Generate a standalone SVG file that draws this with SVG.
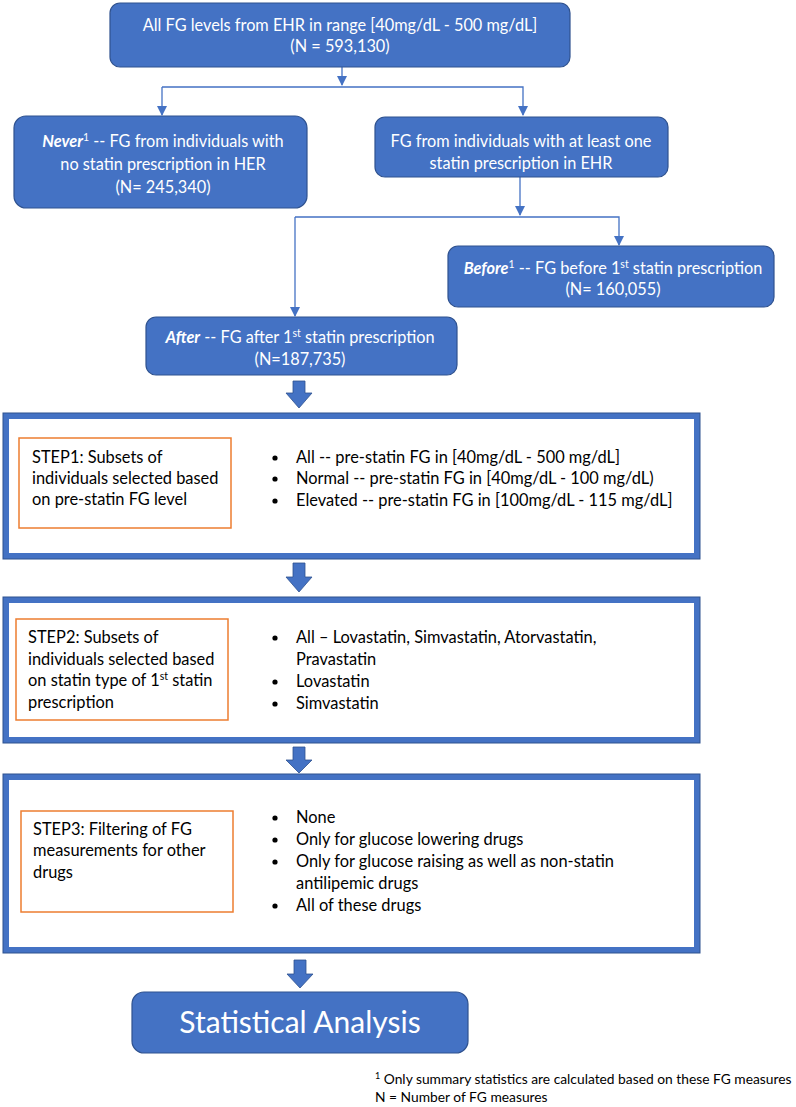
<svg xmlns="http://www.w3.org/2000/svg" width="796" height="1107" viewBox="0 0 796 1107">
<style>
.node{fill:#4472C4;stroke:#2F528F;stroke-width:1.2}
.t{font-family:Lato,"Liberation Sans",sans-serif;font-size:16.3px;fill:#fff;text-anchor:middle}
.b{font-family:Lato,"Liberation Sans",sans-serif;font-size:16.4px;fill:#000}
.frame{fill:#fff;stroke:#4472C4;stroke-width:6}
.frame2{fill:none;stroke:#2F528F;stroke-width:1}
.step{fill:#fff;stroke:#ED7D31;stroke-width:1.5}
.con{fill:none;stroke:#4472C4;stroke-width:1.3}
.blk{fill:#4472C4;stroke:#2F528F;stroke-width:0.8}
.sup{font-size:10.5px}
.fn{font-family:Lato,"Liberation Sans",sans-serif;font-size:13.8px;fill:#000}
</style>
<defs>
<marker id="ah" markerWidth="10" markerHeight="10" refX="9" refY="5" orient="auto" markerUnits="userSpaceOnUse">
<path d="M0,0 L10,5 L0,10 z" fill="#4472C4"/>
</marker>
</defs>

<g id="connectors">
<line class="con" x1="342" y1="67" x2="342" y2="85" marker-end="url(#ah)"/>
<polyline class="con" points="162,87 523,87 523,115" marker-end="url(#ah)"/>
<line class="con" x1="162" y1="87" x2="162" y2="115" marker-end="url(#ah)"/>
<line class="con" x1="520" y1="177" x2="520" y2="215" marker-end="url(#ah)"/>
<polyline class="con" points="295,217 619,217 619,245" marker-end="url(#ah)"/>
<line class="con" x1="295" y1="217" x2="295" y2="316" marker-end="url(#ah)"/>
<path class="blk" d="M293,381 H305 V393 H312 L299,408 L286,393 H293 Z"/>
<path class="blk" d="M293,563 H305 V577 H312 L299,592 L286,577 H293 Z"/>
<path class="blk" d="M293,747 H305 V760 H312 L299,773 L286,760 H293 Z"/>
<path class="blk" d="M294,960 H306 V974 H313 L300,988 L287,974 H294 Z"/>
</g>

<g id="all">
<rect class="node" x="110" y="3" width="460" height="64" rx="10"/>
<text class="t" x="340" y="31">All FG levels from EHR in range [40mg/dL - 500 mg/dL]</text>
<text class="t" x="340" y="52">(N = 593,130)</text>
</g>

<g id="never">
<rect class="node" x="14" y="116" width="293" height="92" rx="12"/>
<text class="t" x="163" y="147"><tspan font-weight="bold" font-style="italic">Never</tspan><tspan class="sup" dy="-6">1</tspan><tspan dy="6"> -- FG from individuals with</tspan></text>
<text class="t" x="163" y="170">no statin prescription in HER</text>
<text class="t" x="163" y="193">(N= 245,340)</text>
</g>

<g id="statin">
<rect class="node" x="375" y="117" width="293" height="60" rx="10"/>
<text class="t" x="521" y="147">FG from individuals with at least one</text>
<text class="t" x="521" y="169">statin prescription in EHR</text>
</g>

<g id="before">
<rect class="node" x="448" y="246" width="326" height="61" rx="10"/>
<text class="t" x="613" y="274"><tspan font-weight="bold" font-style="italic">Before</tspan><tspan class="sup" dy="-6">1</tspan><tspan dy="6"> -- FG before 1</tspan><tspan class="sup" dy="-6">st</tspan><tspan dy="6"> statin prescription</tspan></text>
<text class="t" x="613" y="295">(N= 160,055)</text>
</g>

<g id="after">
<rect class="node" x="146" y="317" width="311" height="58" rx="10"/>
<text class="t" x="300" y="343"><tspan font-weight="bold" font-style="italic">After</tspan><tspan> -- FG after 1</tspan><tspan class="sup" dy="-6">st</tspan><tspan dy="6"> statin prescription</tspan></text>
<text class="t" x="300" y="365">(N=187,735)</text>
</g>

<g id="step1">
<rect class="frame" x="6" y="416" width="691" height="140"/>
<rect class="frame2" x="3" y="413" width="697" height="146"/>
<rect class="step" x="19" y="438" width="212" height="90"/>
<text class="b" x="32" y="463">STEP1: Subsets of</text>
<text class="b" x="32" y="484">individuals selected based</text>
<text class="b" x="32" y="505">on pre-statin FG level</text>
<circle cx="275" cy="458" r="2.6"/>
<circle cx="275" cy="479" r="2.6"/>
<circle cx="275" cy="501" r="2.6"/>
<text class="b" x="296" y="463">All -- pre-statin FG in [40mg/dL - 500 mg/dL]</text>
<text class="b" x="296" y="484">Normal -- pre-statin FG in [40mg/dL - 100 mg/dL)</text>
<text class="b" x="296" y="506">Elevated -- pre-statin FG in [100mg/dL - 115 mg/dL]</text>
</g>

<g id="step2">
<rect class="frame" x="6" y="600" width="691" height="140"/>
<rect class="frame2" x="3" y="597" width="697" height="146"/>
<rect class="step" x="16" y="619" width="212" height="101"/>
<text class="b" x="28" y="643">STEP2: Subsets of</text>
<text class="b" x="28" y="665">individuals selected based</text>
<text class="b" x="28" y="686">on statin type of 1<tspan class="sup" dy="-6">st</tspan><tspan dy="6"> statin</tspan></text>
<text class="b" x="28" y="708">prescription</text>
<circle cx="275" cy="638" r="2.6"/>
<circle cx="275" cy="682" r="2.6"/>
<circle cx="275" cy="704" r="2.6"/>
<text class="b" x="296" y="643">All – Lovastatin, Simvastatin, Atorvastatin,</text>
<text class="b" x="296" y="665">Pravastatin</text>
<text class="b" x="296" y="687">Lovastatin</text>
<text class="b" x="296" y="709">Simvastatin</text>
</g>

<g id="step3">
<rect class="frame" x="6" y="777" width="691" height="173"/>
<rect class="frame2" x="3" y="774" width="697" height="179"/>
<rect class="step" x="21" y="811" width="212" height="101"/>
<text class="b" x="33" y="835">STEP3: Filtering of FG</text>
<text class="b" x="33" y="856">measurements for other</text>
<text class="b" x="33" y="878">drugs</text>
<circle cx="275" cy="818" r="2.6"/>
<circle cx="275" cy="840" r="2.6"/>
<circle cx="275" cy="862" r="2.6"/>
<circle cx="275" cy="906" r="2.6"/>
<text class="b" x="296" y="823">None</text>
<text class="b" x="296" y="845">Only for glucose lowering drugs</text>
<text class="b" x="296" y="867">Only for glucose raising as well as non-statin</text>
<text class="b" x="296" y="889">antilipemic drugs</text>
<text class="b" x="296" y="911">All of these drugs</text>
</g>

<g id="stats">
<rect class="node" x="132" y="992" width="336" height="61" rx="12"/>
<text class="t" x="300" y="1033" style="font-size:30px">Statistical Analysis</text>
</g>

<g id="footnote">
<text class="fn" x="375" y="1084"><tspan class="sup" style="font-size:9px" dy="-5">1</tspan><tspan dy="5"> Only summary statistics are calculated based on these FG measures</tspan></text>
<text class="fn" x="375" y="1102">N = Number of FG measures</text>
</g>
</svg>
